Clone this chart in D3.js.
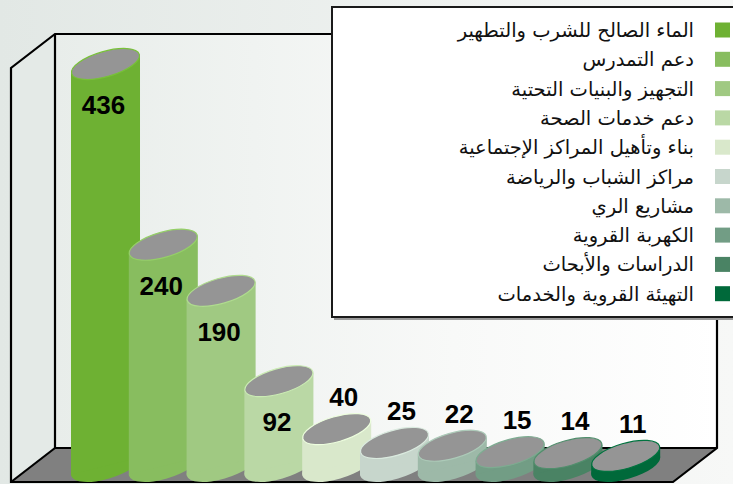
<!DOCTYPE html>
<html><head><meta charset="utf-8">
<script src="https://cdn.jsdelivr.net/npm/d3@7"></script>
<style>html,body{margin:0;padding:0;background:#fff;}svg{display:block;}</style>
</head><body>
<svg id="chart" width="733" height="484"></svg>
<script>
const categories = [
  "الماء الصالح للشرب والتطهير",
  "دعم التمدرس",
  "التجهيز والبنيات التحتية",
  "دعم خدمات الصحة",
  "بناء وتأهيل المراكز الإجتماعية",
  "مراكز الشباب والرياضة",
  "مشاريع الري",
  "الكهربة القروية",
  "الدراسات والأبحاث",
  "التهيئة القروية والخدمات"
];
const values = [436, 240, 190, 92, 40, 25, 22, 15, 14, 11];
const colors = ["#6eb133","#88bd5f","#a0c982","#bad8a5","#d9e8cb","#c7d6cc","#9db9a8","#729d85","#4a8364","#00693a"];

const svg = d3.select("#chart");
const W = 733, H = 484;
const defs = svg.append("defs");
const bg = defs.append("linearGradient").attr("id","bg").attr("x1","0").attr("x2","1").attr("y1","0").attr("y2","0");
bg.append("stop").attr("offset","0").attr("stop-color","#e2e8e5");
bg.append("stop").attr("offset","1").attr("stop-color","#f7f8f7");
const wall = defs.append("linearGradient").attr("id","wall").attr("x1","0").attr("x2","1").attr("y1","0").attr("y2","0");
wall.append("stop").attr("offset","0").attr("stop-color","#e8edea");
wall.append("stop").attr("offset","0.6").attr("stop-color","#f8f9f8");
wall.append("stop").attr("offset","1").attr("stop-color","#ffffff");

svg.append("rect").attr("width",W).attr("height",H).attr("fill","url(#bg)");

// frame geometry
const bx0 = 55, bx1 = 717, by0 = 34, by1 = 448;
const dx = -44, dy = 34;
svg.append("rect").attr("x",bx0).attr("y",by0).attr("width",bx1-bx0).attr("height",by1-by0).attr("fill","url(#wall)");
svg.append("path").attr("d",`M${bx0},${by0}L${bx0+dx},${by0+dy}L${bx0+dx},${by1+dy}L${bx0},${by1}Z`).attr("fill","#e4eae7");
svg.append("path").attr("d",`M${bx0},${by1}L${bx1},${by1}L${bx1+dx},${by1+dy}L${bx0+dx},${by1+dy}Z`).attr("fill","#808080");
const line = (d) => svg.append("path").attr("d",d).attr("fill","none").attr("stroke","#000").attr("stroke-width",2.2).attr("stroke-linejoin","miter");
line(`M${bx0+dx},${by1+dy}L${bx0+dx},${by0+dy}L${bx0},${by0}L${bx1},${by0}L${bx1},${by1}L${bx1+dx},${by1+dy}Z`);
line(`M${bx0},${by0}L${bx0},${by1}L${bx1},${by1}`);
line(`M${bx0},${by1}L${bx0+dx},${by1+dy}`);

// scales
const x = d3.scalePoint().domain(categories).range([105.5, 625.7]);
const y = d3.scaleLinear().domain([0, 436]).range([466, 64]);

const rx = 35.7, ry = 13.1, rot = -16;
const th = rot * Math.PI / 180;
const hw = Math.sqrt(rx*rx*Math.cos(th)**2 + ry*ry*Math.sin(th)**2);
const off = (rx*rx - ry*ry) * Math.sin(-th) * Math.cos(th) / hw;

const g = svg.append("g");
categories.forEach((c, i) => {
  const cx = x(c), cyT = y(values[i]), cyB = y(0);
  const col = colors[i];
  const cg = g.append("g");
  cg.append("ellipse").attr("cx",cx).attr("cy",cyB).attr("rx",rx).attr("ry",ry)
    .attr("transform",`rotate(${rot},${cx},${cyB})`).attr("fill",col);
  cg.append("path").attr("d",`M${cx-hw},${cyT+off}L${cx-hw},${cyB+off}L${cx+hw},${cyB-off}L${cx+hw},${cyT-off}Z`).attr("fill",col);
  cg.append("ellipse").attr("cx",cx).attr("cy",cyT).attr("rx",rx-0.5).attr("ry",ry-0.5)
    .attr("transform",`rotate(${rot},${cx},${cyT})`).attr("fill","#959595")
    .attr("stroke", d3.color(col).brighter(0.25)).attr("stroke-width",1.2);
});

// value labels
categories.forEach((c, i) => {
  const v = values[i], cx = x(c), cy = y(v);
  const inside = v >= 90;
  svg.append("text").attr("x", inside ? cx - 2 : cx + 7).attr("y", inside ? cy + 50 : cy - 23)
    .attr("text-anchor","middle").attr("font-family","Liberation Sans, Arial, sans-serif")
    .attr("font-weight","bold").attr("font-size",26).attr("fill","#000").text(v);
});

// legend
const lg = svg.append("g");
lg.append("rect").attr("x",334).attr("y",10).attr("width",420).attr("height",310).attr("fill","#9a9a9a");
lg.append("rect").attr("x",332).attr("y",7).attr("width",420).attr("height",310).attr("fill","#fff").attr("stroke","#1a1a1a").attr("stroke-width",2);
categories.forEach((c, i) => {
  const cy = 30 + i * 29.3;
  lg.append("rect").attr("x",715).attr("y",cy-7.5).attr("width",15).attr("height",15).attr("fill",colors[i]);
  lg.append("text").attr("x",694).attr("y",cy+7).attr("text-anchor","end")
    .attr("font-family","DejaVu Sans, sans-serif").attr("font-size",19.5).attr("fill","#111").text(c);
});
</script>
</body></html>
